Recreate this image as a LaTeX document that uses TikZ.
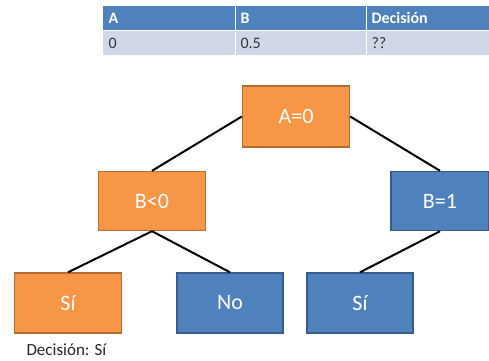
\documentclass[tikz,border=0pt]{standalone}
\usepackage{fontspec}
\setmainfont{Carlito}
\definecolor{orfill}{HTML}{F79646}
\definecolor{ordraw}{HTML}{B66D31}
\definecolor{blfill}{HTML}{4F81BD}
\definecolor{bldraw}{HTML}{385D8A}
\definecolor{rowfill}{HTML}{D0D8E8}
\begin{document}
\begin{tikzpicture}[x=1pt,y=-1pt,
  orbox/.style={draw=ordraw,fill=orfill,line width=1.4pt,text=white,font=\fontsize{22}{26}\selectfont},
  blbox/.style={draw=bldraw,fill=blfill,line width=1.4pt,text=white,font=\fontsize{22}{26}\selectfont},
  edge/.style={line width=2pt,black},
  hdr/.style={anchor=west,text=white,font=\fontsize{16}{18}\selectfont\bfseries},
  cell/.style={anchor=west,text=black!80,font=\fontsize{16}{18}\selectfont}]
\useasboundingbox (0,0) rectangle (489,360);
% table
\fill[blfill] (103,6) rectangle (489,30);
\fill[rowfill] (103,30) rectangle (489,55);
\draw[white,line width=1pt] (103,30) -- (489,30);
\draw[white,line width=1pt] (235,6) -- (235,55) (366,6) -- (366,55);
\node[hdr] (ha) at (105,18) {A};
\node[hdr] (hb) at (237,18) {B};
\node[hdr] (hd) at (368,18) {Decisión};
\node[cell] (ca) at (105,43) {0};
\node[cell] (cb) at (237,43) {0.5};
\node[cell] (cd) at (368,43) {??};
% tree
\node[orbox,minimum width=107pt,minimum height=61pt] (a0) at (296,116.5) {A=0};
\node[orbox,minimum width=107pt,minimum height=59pt] (bl) at (152,201) {B<0};
\node[blbox,minimum width=98pt,minimum height=59pt] (b1) at (440,201) {B=1};
\node[orbox,minimum width=107pt,minimum height=60pt] (s1) at (68,303) {Sí};
\node[blbox,minimum width=106pt,minimum height=60pt] (no) at (230,303) {No};
\node[blbox,minimum width=106pt,minimum height=60pt] (s2) at (360,303) {Sí};
\draw[edge] (a0.west) -- (bl.north);
\draw[edge] (a0.east) -- (b1.north);
\draw[edge] (bl.south) -- (s1.north);
\draw[edge] (bl.south) -- (no.north);
\draw[edge] (b1.south) -- (s2.north);
\node[anchor=west,text=black!85,font=\fontsize{17}{20}\selectfont] (dec) at (23,350) {Decisión: Sí};
\end{tikzpicture}
\end{document}
